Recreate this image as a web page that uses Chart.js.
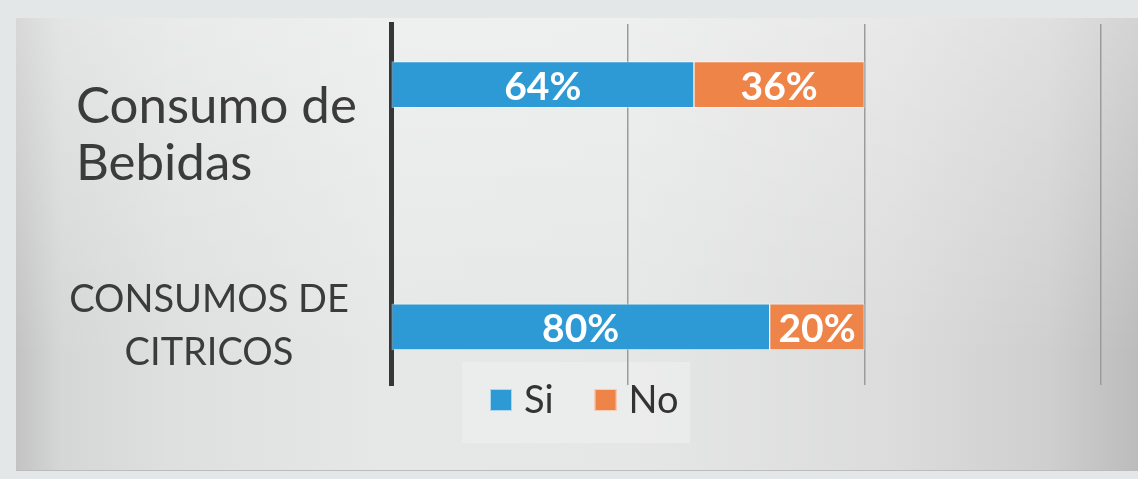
<!DOCTYPE html>
<html lang="es">
<head>
<meta charset="utf-8">
<title>Consumo de bebidas y cítricos</title>
<script src="https://cdn.jsdelivr.net/npm/chart.js@4/dist/chart.umd.min.js"></script>
<style>
  html, body { margin: 0; padding: 0; width: 1138px; height: 479px; overflow: hidden; background: #e4e7e8; }
  /* panel gris con degradado tipo Office */
  #panel {
    position: absolute; left: 16px; top: 18px; width: 1122px; height: 452px;
    border-bottom: 1px solid #bcbcbc;
    background:
      linear-gradient(to bottom, rgba(255,255,255,0.35), rgba(255,255,255,0) 75%),
      linear-gradient(to right, #c3c3c3 0%, #d5d6d6 4%, #dedfdf 14%, #e6e7e7 33%, #e5e6e6 55%, #dcdcdc 78%, #cfcfcf 92%, #bcbcbc 100%);
  }
  #wrap { position: absolute; left: 0; top: 0; width: 1138px; height: 479px; }
</style>
</head>
<body>
<div id="panel"></div>
<div id="wrap"><canvas id="consumoChart"></canvas></div>
<script>
// Datos de la encuesta
const categories = [['Consumo de', 'Bebidas'], ['CONSUMOS DE', 'CITRICOS']];
const seriesNames = ['Si', 'No'];
const si = [64, 80];
const no = [36, 20];
const axisMax = 150;
const axisStep = 50;

const colors = ['#2e9ad5', '#ef8449'];

// Estilo de las etiquetas de categoría (cada una va en su propio cuadro de texto)
const labelStyle = [
  { size: 51, x: 76, align: 'left', firstBaseline: 38, lineGap: 57 },
  { size: 38, x: 209, align: 'center', firstBaseline: -15, lineGap: 53 }
];

// Etiquetas de categoría a la izquierda del eje
const categoryLabels = {
  id: 'categoryLabels',
  afterDraw(chart) {
    const { ctx } = chart;
    const yScale = chart.scales.y;
    ctx.save();
    ctx.fillStyle = '#3b3b3b';
    ctx.textBaseline = 'alphabetic';
    categories.forEach((lines, i) => {
      const st = labelStyle[i];
      const yc = yScale.getPixelForValue(i);
      ctx.font = st.size + 'px Lato';
      ctx.textAlign = st.align;
      lines.forEach((t, k) => ctx.fillText(t, st.x, yc + st.firstBaseline + k * st.lineGap));
    });
    ctx.restore();
  }
};

// Porcentaje centrado dentro de cada segmento
const barValues = {
  id: 'barValues',
  afterDatasetsDraw(chart) {
    const { ctx } = chart;
    ctx.save();
    ctx.font = 'bold 39px Lato';
    ctx.fillStyle = '#ffffff';
    ctx.textAlign = 'center';
    ctx.textBaseline = 'alphabetic';
    chart.data.datasets.forEach((ds, d) => {
      chart.getDatasetMeta(d).data.forEach((bar, i) => {
        const cx = (bar.x + bar.base) / 2;
        ctx.fillText(ds.data[i].x + '%', cx, bar.y + 15);
      });
    });
    ctx.restore();
  }
};

// Leyenda propia: queda dentro del área de trazado, como en el original
const legendBox = {
  id: 'legendBox',
  beforeDraw(chart) {
    const { ctx } = chart;
    ctx.save();
    ctx.fillStyle = 'rgba(240,240,240,0.55)';
    ctx.fillRect(462, 362, 228, 81);
    ctx.restore();
  },
  afterDraw(chart) {
    const { ctx } = chart;
    const size = 22, top = 389;
    let x = 490;
    ctx.save();
    ctx.font = '38px Lato';
    ctx.textAlign = 'left';
    ctx.textBaseline = 'alphabetic';
    chart.data.datasets.forEach(ds => {
      ctx.fillStyle = ds.backgroundColor;
      ctx.fillRect(x, top, size, size);
      ctx.strokeStyle = 'rgba(255,255,255,0.6)';
      ctx.lineWidth = 1;
      ctx.strokeRect(x + 0.5, top + 0.5, size - 1, size - 1);
      x += size + 12;
      ctx.fillStyle = '#333333';
      ctx.fillText(ds.label, x, 413);
      x += ctx.measureText(ds.label).width + 41;
    });
    ctx.restore();
  }
};

const values = [si, no];

new Chart(document.getElementById('consumoChart'), {
  type: 'bar',
  data: {
    datasets: seriesNames.map((name, s) => ({
      label: name,
      data: values[s].map((v, i) => ({ x: v, y: i })),
      backgroundColor: colors[s],
      borderColor: 'rgba(255,255,255,0.45)',
      borderWidth: 1,
      borderSkipped: false,
      barThickness: 46,
      stack: 'total'
    }))
  },
  options: {
    indexAxis: 'y',
    responsive: true,
    maintainAspectRatio: false,
    animation: false,
    events: [],
    layout: { padding: { left: 391, right: 37, top: 24, bottom: 94 } },
    plugins: {
      legend: { display: false },
      tooltip: { enabled: false }
    },
    scales: {
      x: {
        type: 'linear',
        min: 0,
        max: axisMax,
        stacked: true,
        ticks: { display: false, stepSize: axisStep },
        grid: { color: '#9b9b9b', lineWidth: 1.5, drawTicks: false },
        border: { display: false }
      },
      y: {
        type: 'linear',
        reverse: true,
        offset: false,
        min: -0.25,
        max: 1.24,
        z: 1,
        ticks: { display: false },
        grid: { display: false, drawTicks: false, offset: false },
        border: { display: true, color: '#363636', width: 5 }
      }
    }
  },
  plugins: [legendBox, barValues, categoryLabels]
});
</script>
</body>
</html>
